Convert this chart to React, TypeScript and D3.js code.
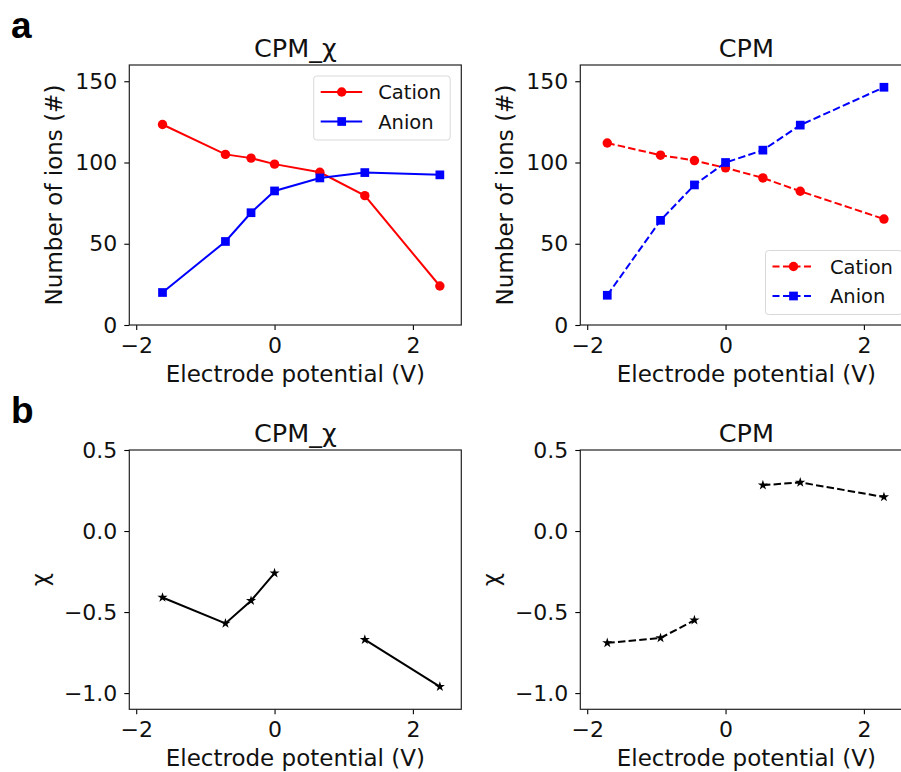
import React, { useRef, useEffect } from 'react';
import * as d3 from 'd3';

// top row: number of ions, bottom row: chi
const chiPotential = [-1.62, -0.71, -0.34, 0, 0.655, 1.305, 2.39];
const chiCation = [123.4, 105, 102.7, 99, 94, 79.6, 24];
const chiAnion = [20, 51.4, 69.1, 82.5, 90.5, 93.8, 92.4];
const chiChi = [-0.41, -0.57, -0.43, -0.26, NaN, -0.67, -0.96];

const cpmPotential = [-1.71, -0.94, -0.45, 0, 0.54, 1.08, 2.29];
const cpmCation = [112, 104.5, 101.2, 96.7, 90.5, 82.3, 65.2];
const cpmAnion = [18.3, 64.4, 86.2, 100, 107.6, 123, 146.3];
const cpmChi = [-0.69, -0.66, -0.55, NaN, 0.283, 0.3, 0.21];

const xTicks = [-2, 0, 2];
const ionTicks = [0, 50, 100, 150];
const chiTicks = [-1.0, -0.5, 0.0, 0.5];

const FONT = 'DejaVu Sans, sans-serif';

type Series = { name: string; xs: number[]; ys: number[]; color: string; symbol: d3.SymbolType; size: number };

const App = () => {
  const svgRef = useRef<SVGSVGElement>(null);

  useEffect(() => {
    const svg = d3.select(svgRef.current);
    svg.selectAll('*').remove();

    const drawPanel = (opts: {
      left: number; top: number; width: number; height: number;
      yDomain: [number, number]; yTicks: number[]; yFormat: (d: number) => string;
      title: string; yLabel: string; yLabelOffset: number;
      series: Series[]; dashed: boolean;
      legend?: { x: number; y: number; w: number; h: number };
    }) => {
      const x = d3.scaleLinear().domain([-2.1, 2.7]).range([opts.left, opts.left + opts.width]);
      const y = d3.scaleLinear().domain(opts.yDomain).range([opts.top + opts.height, opts.top]);
      const g = svg.append('g');

      // lines
      opts.series.forEach(s => {
        const pts = s.xs.map((v, i) => [v, s.ys[i]] as [number, number]);
        const line = d3.line<[number, number]>()
          .defined(d => !isNaN(d[1]))
          .x(d => x(d[0]))
          .y(d => y(d[1]));
        g.append('path')
          .attr('d', line(pts))
          .attr('fill', 'none')
          .attr('stroke', s.color)
          .attr('stroke-width', 2)
          .attr('stroke-dasharray', opts.dashed ? '7.5,3.2' : null);
        g.selectAll(null)
          .data(pts.filter(d => !isNaN(d[1])))
          .enter()
          .append('path')
          .attr('d', d3.symbol().type(s.symbol).size(s.size)())
          .attr('transform', d => `translate(${x(d[0])},${y(d[1])})`)
          .attr('fill', s.color);
      });

      // axes
      const xAxis = g.append('g')
        .attr('transform', `translate(0,${opts.top + opts.height})`)
        .call(d3.axisBottom(x).tickValues(xTicks).tickSize(5).tickPadding(7).tickFormat(d3.format('d')));
      const yAxis = g.append('g')
        .attr('transform', `translate(${opts.left},0)`)
        .call(d3.axisLeft(y).tickValues(opts.yTicks).tickSize(5).tickPadding(7).tickFormat(opts.yFormat as any));
      [xAxis, yAxis].forEach(a => {
        a.select('.domain').remove();
        a.selectAll('line').attr('stroke', '#000').attr('stroke-width', 1.1);
        a.selectAll('text').attr('font-family', FONT).attr('font-size', 22).attr('fill', '#111');
      });

      g.append('rect')
        .attr('x', opts.left).attr('y', opts.top)
        .attr('width', opts.width).attr('height', opts.height)
        .attr('fill', 'none').attr('stroke', '#222').attr('stroke-width', 1.2);

      // labels
      g.append('text')
        .attr('x', opts.left + opts.width / 2).attr('y', opts.top - 8)
        .attr('text-anchor', 'middle').attr('font-family', FONT).attr('font-size', 25.5)
        .attr('fill', '#111')
        .text(opts.title);
      g.append('text')
        .attr('x', opts.left + opts.width / 2).attr('y', opts.top + opts.height + 57)
        .attr('text-anchor', 'middle').attr('font-family', FONT).attr('font-size', 23)
        .attr('fill', '#111')
        .text('Electrode potential (V)');
      g.append('text')
        .attr('transform', `translate(${opts.left - opts.yLabelOffset},${opts.top + opts.height / 2}) rotate(-90)`)
        .attr('text-anchor', 'middle').attr('font-family', FONT).attr('font-size', 23)
        .attr('fill', '#111')
        .text(opts.yLabel);

      if (opts.legend) {
        const L = opts.legend;
        const lg = g.append('g');
        lg.append('rect')
          .attr('x', L.x).attr('y', L.y).attr('width', L.w).attr('height', L.h)
          .attr('rx', 3).attr('fill', '#fff').attr('fill-opacity', 0.8)
          .attr('stroke', '#d9d9d9').attr('stroke-width', 1);
        opts.series.forEach((s, i) => {
          const ry = L.y + 16 + i * 29.5;
          lg.append('line')
            .attr('x1', L.x + 7).attr('x2', L.x + 48.5).attr('y1', ry).attr('y2', ry)
            .attr('stroke', s.color).attr('stroke-width', 2)
            .attr('stroke-dasharray', opts.dashed ? '7,3.5' : null);
          lg.append('path')
            .attr('d', d3.symbol().type(s.symbol).size(s.size)())
            .attr('transform', `translate(${L.x + 28},${ry})`)
            .attr('fill', s.color);
          lg.append('text')
            .attr('x', L.x + 64.5).attr('y', ry + 7)
            .attr('font-family', FONT).attr('font-size', 19.5)
            .attr('fill', '#111')
            .text(s.name);
        });
      }
    };

    const ionFormat = (d: number) => d3.format('d')(d);
    const chiFormat = (d: number) => d3.format('.1f')(d);

    drawPanel({
      left: 129.3, top: 65, width: 332, height: 260,
      yDomain: [0, 160], yTicks: ionTicks, yFormat: ionFormat,
      title: 'CPM_χ', yLabel: 'Number of ions (#)', yLabelOffset: 67,
      dashed: false,
      series: [
        { name: 'Cation', xs: chiPotential, ys: chiCation, color: '#ff0000', symbol: d3.symbolCircle, size: 70 },
        { name: 'Anion', xs: chiPotential, ys: chiAnion, color: '#0000ff', symbol: d3.symbolSquare, size: 76 },
      ],
      legend: { x: 313.7, y: 76, w: 136.5, h: 64 },
    });
    drawPanel({
      left: 580.3, top: 65, width: 332, height: 260,
      yDomain: [0, 160], yTicks: ionTicks, yFormat: ionFormat,
      title: 'CPM', yLabel: 'Number of ions (#)', yLabelOffset: 67,
      dashed: true,
      series: [
        { name: 'Cation', xs: cpmPotential, ys: cpmCation, color: '#ff0000', symbol: d3.symbolCircle, size: 70 },
        { name: 'Anion', xs: cpmPotential, ys: cpmAnion, color: '#0000ff', symbol: d3.symbolSquare, size: 76 },
      ],
      legend: { x: 765.5, y: 250.5, w: 136.5, h: 64 },
    });
    drawPanel({
      left: 129.3, top: 450, width: 332, height: 259.3,
      yDomain: [-1.1, 0.5], yTicks: chiTicks, yFormat: chiFormat,
      title: 'CPM_χ', yLabel: 'χ', yLabelOffset: 81,
      dashed: false,
      series: [
        { name: 'chi', xs: chiPotential, ys: chiChi, color: '#000', symbol: d3.symbolStar, size: 32 },
      ],
    });
    drawPanel({
      left: 580.3, top: 450, width: 332, height: 259.3,
      yDomain: [-1.1, 0.5], yTicks: chiTicks, yFormat: chiFormat,
      title: 'CPM', yLabel: 'χ', yLabelOffset: 81,
      dashed: true,
      series: [
        { name: 'chi', xs: cpmPotential, ys: cpmChi, color: '#000', symbol: d3.symbolStar, size: 32 },
      ],
    });

    // panel letters
    svg.append('text').attr('x', 11).attr('y', 38)
      .attr('font-family', 'Liberation Sans, Arial, sans-serif').attr('font-weight', 'bold').attr('font-size', 37)
      .text('a');
    svg.append('text').attr('x', 11).attr('y', 423)
      .attr('font-family', 'Liberation Sans, Arial, sans-serif').attr('font-weight', 'bold').attr('font-size', 37)
      .text('b');
  }, []);

  return (
    <svg ref={svgRef} width={901} height={772}
      style={{ position: 'absolute', left: 0, top: 0, background: '#fff' }} />
  );
};

export default App;
